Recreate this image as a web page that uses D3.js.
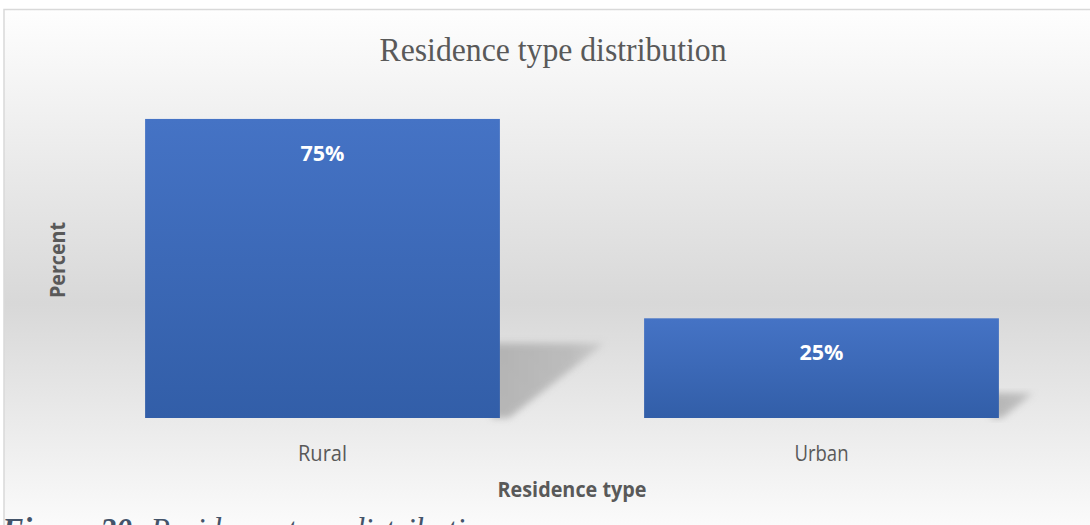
<!DOCTYPE html>
<html>
<head>
<meta charset="utf-8">
<script src="https://cdn.jsdelivr.net/npm/d3@7/dist/d3.min.js"></script>
<style>
  html, body { margin: 0; padding: 0; background: #ffffff; overflow: hidden; }
  svg { display: block; }
</style>
</head>
<body>
<svg id="chart" width="1090" height="525"></svg>
<script>
// Residence type distribution — share of respondents by residence type
const categories = ["Rural", "Urban"];
const percents = [0.75, 0.25];
const valueLabels = ["75%", "25%"];

const titleText = "Residence type distribution";
const xAxisTitle = "Residence type";
const yAxisTitle = "Percent";
const captionLead = "Figure 20:";
const captionRest = " Residence type distribution";

const W = 1090, H = 525;
const sans = "'Open Sans', sans-serif";
const serif = "'Liberation Serif', 'Times New Roman', serif";
const svg = d3.select("#chart");
const defs = svg.append("defs");

// chart area background: white → gray → white vertical gradient
const bg = defs.append("linearGradient").attr("id", "bgGrad")
  .attr("x1", 0).attr("y1", 0).attr("x2", 0).attr("y2", 1);
bg.append("stop").attr("offset", "0%").attr("stop-color", "#fefefe");
bg.append("stop").attr("offset", "56%").attr("stop-color", "#d8d8d8");
bg.append("stop").attr("offset", "100%").attr("stop-color", "#fcfcfc");

// bar fill
const barGrad = defs.append("linearGradient").attr("id", "barGrad")
  .attr("x1", 0).attr("y1", 0).attr("x2", 0).attr("y2", 1);
barGrad.append("stop").attr("offset", "0%").attr("stop-color", "#4573c5");
barGrad.append("stop").attr("offset", "100%").attr("stop-color", "#325ea8");

// soft perspective shadow, fading to the right
const shadowGrad = defs.append("linearGradient").attr("id", "shadowGrad")
  .attr("x1", 0).attr("y1", 0).attr("x2", 1).attr("y2", 0);
shadowGrad.append("stop").attr("offset", "0%").attr("stop-color", "#a8a8a8");
shadowGrad.append("stop").attr("offset", "70%").attr("stop-color", "#b4b4b4");
shadowGrad.append("stop").attr("offset", "100%").attr("stop-color", "#c8c8c8");

const blur = defs.append("filter").attr("id", "shadowBlur")
  .attr("x", "-20%").attr("y", "-20%").attr("width", "140%").attr("height", "140%");
blur.append("feGaussianBlur").attr("stdDeviation", 3.5);

// chart frame
svg.append("rect")
  .attr("x", 4).attr("y", 9.5).attr("width", W + 10).attr("height", H)
  .attr("fill", "url(#bgGrad)")
  .attr("stroke", "#d9d9d9").attr("stroke-width", 1.5);

// scales
const x = d3.scaleBand()
  .domain(categories)
  .range([73, 1071])
  .paddingInner(0.289)
  .paddingOuter(0.1445);

const y = d3.scaleLinear()
  .domain([0, 0.8])
  .range([418, 99]);

const data = categories.map((c, i) => ({ cat: c, v: percents[i], label: valueLabels[i] }));

// shadows cast to the right of each bar
svg.append("g").selectAll("path")
  .data(data)
  .join("path")
  .attr("filter", "url(#shadowBlur)")
  .attr("fill", "url(#shadowGrad)")
  .attr("opacity", 0.8)
  .attr("d", d => {
    const x1 = x(d.cat) + x.bandwidth();
    const base = y(0);
    const h = y(0) - y(d.v);
    const top = base - h * 0.25;
    return `M${x1 - 8},${base} L${x1 - 8},${top} L${x1 + h * 0.35},${top} L${x1 + h * 0.03},${base} Z`;
  });

// bars
svg.append("g").selectAll("rect")
  .data(data)
  .join("rect")
  .attr("x", d => x(d.cat))
  .attr("y", d => y(d.v))
  .attr("width", x.bandwidth())
  .attr("height", d => y(0) - y(d.v))
  .attr("fill", "url(#barGrad)");

// value labels inside bars
svg.append("g").selectAll("text")
  .data(data)
  .join("text")
  .attr("x", d => x(d.cat) + x.bandwidth() / 2)
  .attr("y", d => y(d.v) + 42)
  .attr("text-anchor", "middle")
  .attr("font-family", sans)
  .attr("font-weight", "bold")
  .attr("font-size", 22)
  .attr("textLength", 44)
  .attr("lengthAdjust", "spacingAndGlyphs")
  .attr("fill", "#ffffff")
  .text(d => d.label);

// category axis (labels only)
const labelWidths = { Rural: 49, Urban: 54 };
const xAxis = d3.axisBottom(x).tickSize(0).tickPadding(27);
const gx = svg.append("g").attr("transform", `translate(0,${y(0)})`).call(xAxis);
gx.select(".domain").remove();
gx.selectAll("text")
  .attr("font-family", sans)
  .attr("font-size", 22)
  .attr("textLength", d => labelWidths[d])
  .attr("lengthAdjust", "spacingAndGlyphs")
  .attr("fill", "#595959");

// title
svg.append("text")
  .attr("x", 553).attr("y", 61)
  .attr("text-anchor", "middle")
  .attr("font-family", serif)
  .attr("font-size", 33)
  .attr("textLength", 347)
  .attr("lengthAdjust", "spacingAndGlyphs")
  .attr("fill", "#595959")
  .text(titleText);

// axis titles
svg.append("text")
  .attr("x", 572).attr("y", 497)
  .attr("text-anchor", "middle")
  .attr("font-family", sans)
  .attr("font-weight", "bold")
  .attr("font-size", 21)
  .attr("textLength", 149)
  .attr("lengthAdjust", "spacingAndGlyphs")
  .attr("fill", "#595959")
  .text(xAxisTitle);

svg.append("text")
  .attr("transform", "translate(65,260) rotate(-90)")
  .attr("text-anchor", "middle")
  .attr("font-family", sans)
  .attr("font-weight", "bold")
  .attr("font-size", 21)
  .attr("textLength", 76)
  .attr("lengthAdjust", "spacingAndGlyphs")
  .attr("fill", "#595959")
  .text(yAxisTitle);

// figure caption below the chart (runs past the bottom edge)
const cap = svg.append("text")
  .attr("x", 2).attr("y", 541)
  .attr("font-family", serif)
  .attr("font-style", "italic")
  .attr("font-size", 33)
  .attr("textLength", 495)
  .attr("lengthAdjust", "spacingAndGlyphs")
  .attr("fill", "#44546a");
cap.append("tspan").attr("font-weight", "bold").text(captionLead);
cap.append("tspan").text(captionRest);
</script>
</body>
</html>
